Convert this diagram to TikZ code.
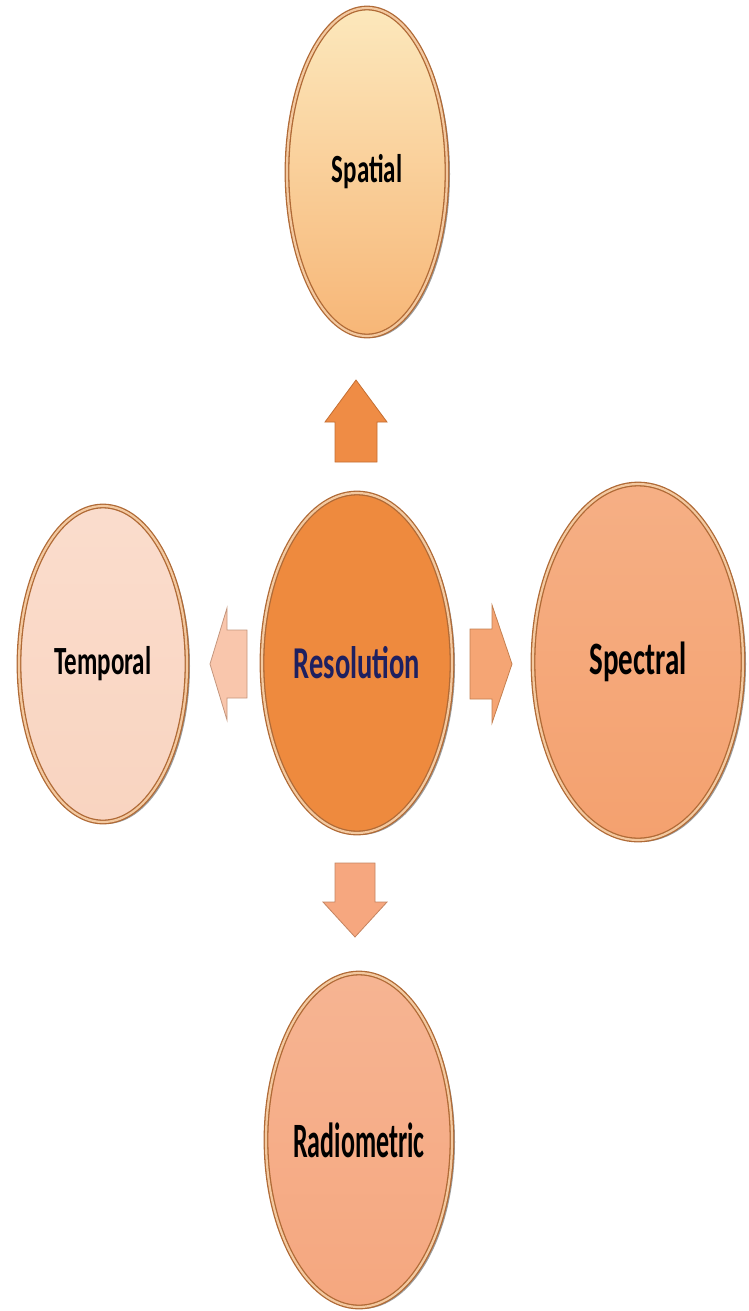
\documentclass[tikz,border=0pt]{standalone}
\usepackage{fontspec}
\setmainfont{Carlito}
\usepackage{xcolor}
\usetikzlibrary{shapes.geometric,shadows,positioning}

\definecolor{spatTop}{HTML}{FCE8BC}
\definecolor{spatBot}{HTML}{F7B677}
\definecolor{resFill}{HTML}{EE8A3E}
\definecolor{tempFill}{HTML}{F9D4C0}
\definecolor{specFill}{HTML}{F4A16F}
\definecolor{radFill}{HTML}{F5A77F}
\definecolor{rimDark}{HTML}{B06A36}
\definecolor{rimLight}{HTML}{F3C9A0}
\definecolor{resText}{HTML}{1E2060}
\definecolor{upFill}{HTML}{EF8C45}
\definecolor{upDraw}{HTML}{C46E32}
\definecolor{leftFill}{HTML}{F9C6AC}
\definecolor{leftDraw}{HTML}{C4967D}
\definecolor{rightFill}{HTML}{F5A574}
\definecolor{rightDraw}{HTML}{C48050}
\definecolor{downFill}{HTML}{F6A77F}
\definecolor{downDraw}{HTML}{C48460}

\newcommand{\lbl}[2][1.6]{\scalebox{1}[#1]{#2}}

\begin{document}
\begin{tikzpicture}[x=1pt,y=-1pt,
                    res node/.style={ellipse,inner sep=0pt,draw=rimDark,double=rimLight,
                      double distance=2.2pt,line width=1.3pt,
                      drop shadow={shadow xshift=3pt,shadow yshift=-2pt,fill=black!70,opacity=0.55},
                      font=\fontsize{25}{25}\selectfont\bfseries},
                    blk arrow/.style={line width=0.8pt,line join=miter}]

 \useasboundingbox (0,0) rectangle (748,1311);

 % centre
 \node[res node,minimum width=190pt,minimum height=340pt,fill=resFill,
       font=\fontsize{28.5}{28.5}\selectfont\bfseries,text=resText] (res) at (357,663) {\lbl{Resolution}};

 % the four kinds
 \node[res node,minimum width=160pt,minimum height=328pt,top color=spatTop,bottom color=spatBot] (spat) at (367,172) {\lbl{Spatial}};

 \node[res node,minimum width=168pt,minimum height=316pt,top color=tempFill!80!white,bottom color=tempFill] (temp) at (103,664) {\lbl{Temporal}};

 \node[res node,minimum width=210pt,minimum height=356pt,top color=specFill!85!white,bottom color=specFill,
       font=\fontsize{29}{29}\selectfont\bfseries] (spec) at (638,662) {\lbl{Spectral}};

 \node[res node,minimum width=186pt,minimum height=334pt,top color=radFill!85!white,bottom color=radFill,
       font=\fontsize{26}{26}\selectfont\bfseries] (rad) at (359,1140) {\lbl[1.9]{Radiometric}};

 % block arrows
 \coordinate (up) at (356,421);
 \draw[blk arrow,fill=upFill,draw=upDraw,shift={(up)}]
   (0,-41) -- (31,1) -- (21,1) -- (21,41) -- (-21,41) -- (-21,1) -- (-31,1) -- cycle;

 \coordinate (left) at (228,664);
 \draw[blk arrow,fill=leftFill,draw=leftDraw,shift={(left)}]
   (-18,0) -- (-1,-56) -- (-1,-34) -- (19,-34) -- (19,34) -- (-1,34) -- (-1,56) -- cycle;

 \coordinate (right) at (491,664);
 \draw[blk arrow,fill=rightFill,draw=rightDraw,shift={(right)}]
   (21,0) -- (1,-59) -- (1,-35) -- (-21,-35) -- (-21,35) -- (1,35) -- (1,59) -- cycle;

 \coordinate (down) at (355,900);
 \draw[blk arrow,fill=downFill,draw=downDraw,shift={(down)}]
   (0,37) -- (-32,2) -- (-20,2) -- (-20,-37) -- (20,-37) -- (20,2) -- (32,2) -- cycle;

\end{tikzpicture}
\end{document}
